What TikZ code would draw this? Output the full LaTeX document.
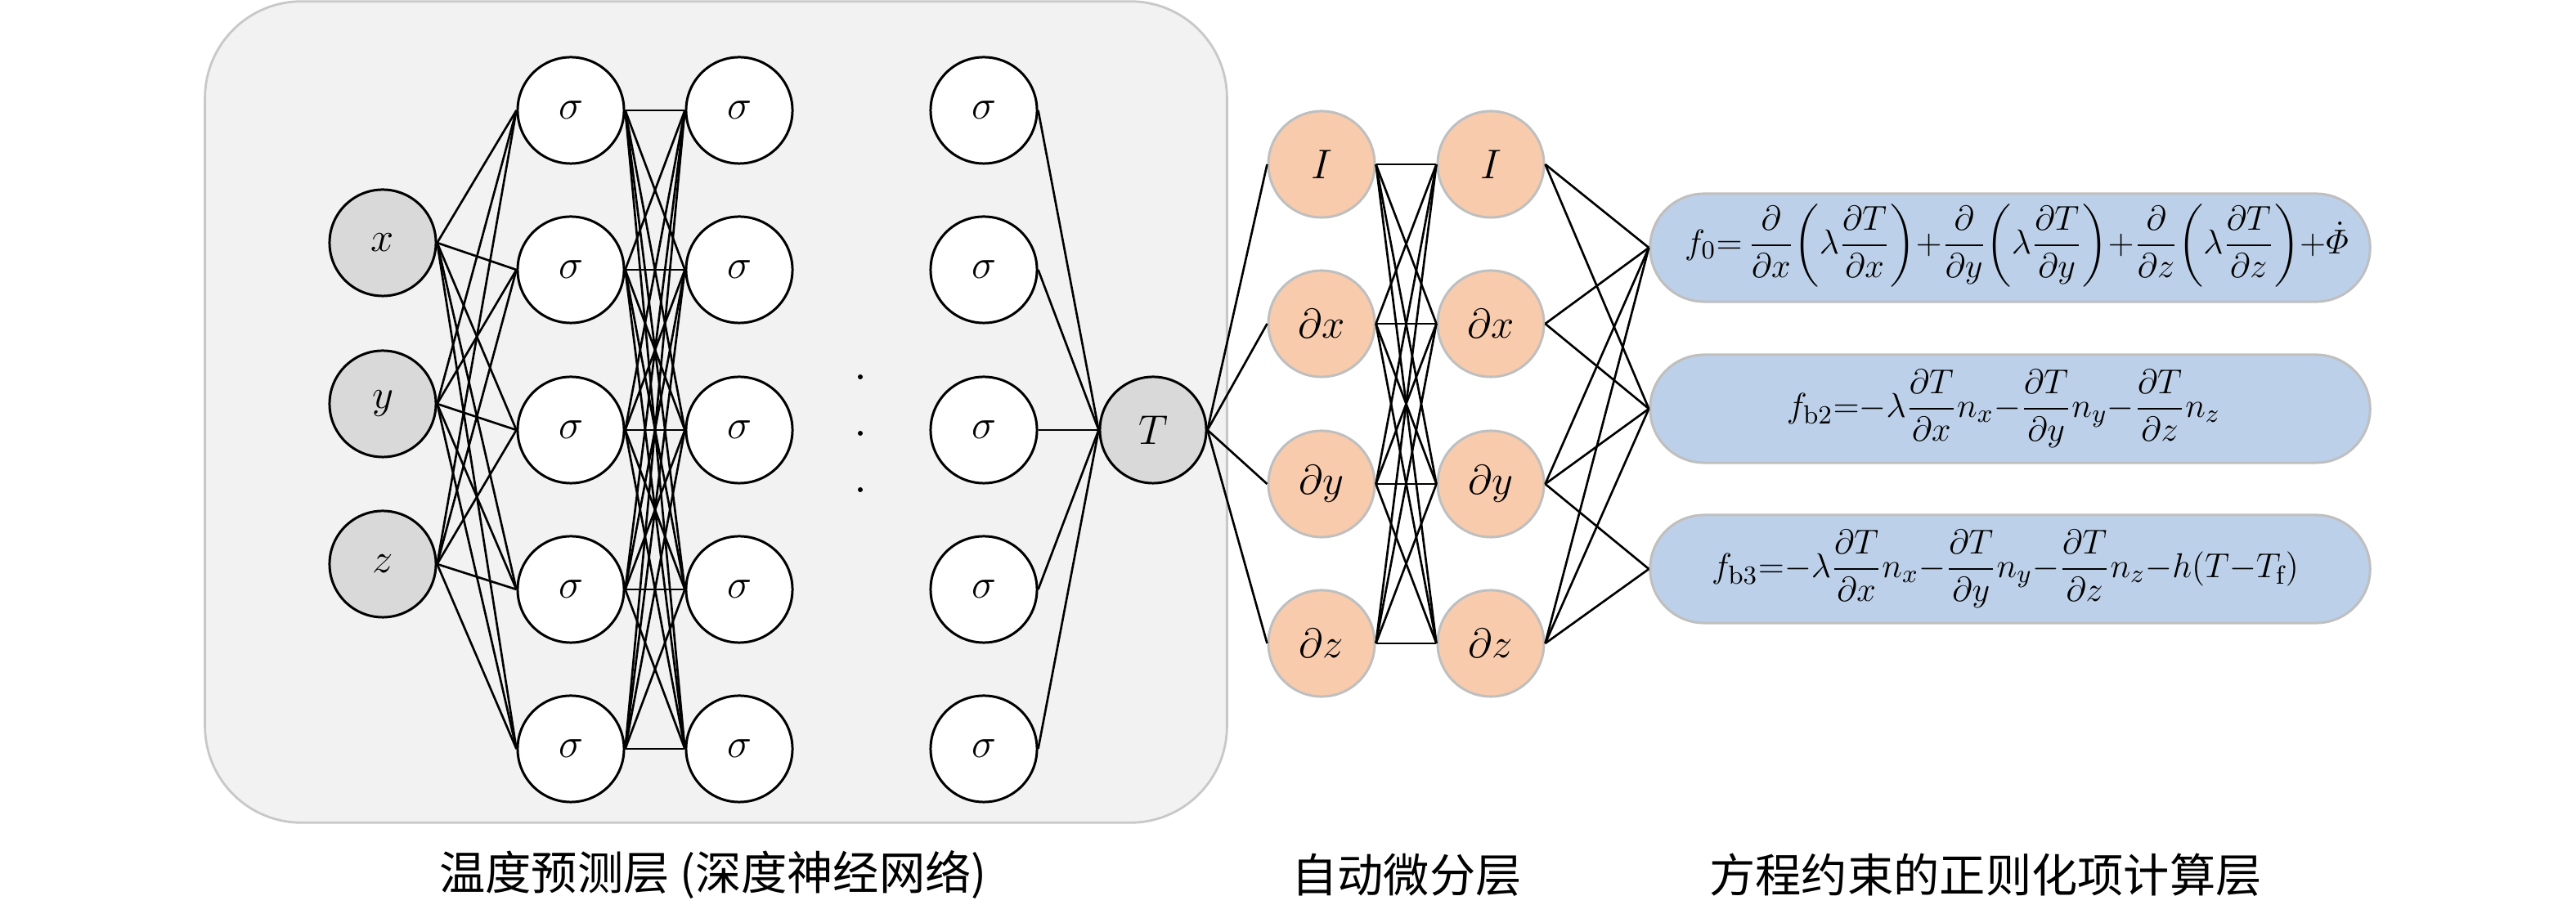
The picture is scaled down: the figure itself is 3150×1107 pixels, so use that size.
\documentclass[tikz,border=0pt]{standalone}
\usepackage{fontspec}
\usepackage{amsmath}
\newfontfamily\cjk{Noto Sans CJK SC}
\usetikzlibrary{shapes.misc}
\definecolor{panelfill}{HTML}{F2F2F2}
\definecolor{paneldraw}{HTML}{C8C8C8}
\definecolor{ingray}{HTML}{D9D9D9}
\definecolor{dorange}{HTML}{F8CBAD}
\definecolor{eqblue}{HTML}{BDD0E9}
\definecolor{softgray}{HTML}{BFBFBF}
\begin{document}
\begin{tikzpicture}[x=0.01cm,y=-0.01cm,
  panel/.style={rectangle, draw=paneldraw, fill=panelfill, line width=0.8pt, rounded corners=1.18cm, minimum width=12.49cm, minimum height=10.04cm, inner sep=0pt},
  neuron/.style={circle, draw=black, line width=0.85pt, fill=white, minimum size=1.30cm, inner sep=0pt, font=\fontsize{14}{16}\selectfont},
  innode/.style={neuron, fill=ingray},
  dnode/.style={circle, draw=softgray, line width=0.85pt, fill=dorange, minimum size=1.30cm, inner sep=0pt, font=\fontsize{14}{16}\selectfont},
  eqbox/.style={rounded rectangle, draw=softgray, line width=0.85pt, fill=eqblue, minimum width=8.8cm, minimum height=1.32cm, inner sep=0pt},
  eqtext/.style={inner sep=0pt, font=\fontsize{13}{16}\selectfont},
  link/.style={line width=0.75pt, black},
  dotmark/.style={circle, fill=black, inner sep=0pt, minimum size=0.06cm},
  caption/.style={font=\cjk\fontsize{16}{19}\selectfont, inner sep=0pt}
]
\useasboundingbox (0,0) rectangle (3150,1107);
\node[panel] (panel) at (875.5,504) {};

% input nodes
\node[innode] (in1) at (468,297) {$x$};
\node[innode] (in2) at (468,494) {$y$};
\node[innode] (in3) at (468,690) {$z$};

% hidden layers
\foreach \j/\yy in {1/135,2/330,3/526,4/721,5/916}{
  \node[neuron] (a\j) at (698,\yy) {$\sigma$};
  \node[neuron] (b\j) at (904,\yy) {$\sigma$};
  \node[neuron] (c\j) at (1203,\yy) {$\sigma$};
}
\node[innode] (T) at (1410,526) {$T$};

\node[dotmark] (dot1) at (1052,461) {};
\node[dotmark] (dot2) at (1052,530) {};
\node[dotmark] (dot3) at (1052,599) {};

% differentiation layer
\node[dnode] (d1) at (1616,201) {$I$};
\node[dnode] (d2) at (1616,396) {$\partial x$};
\node[dnode] (d3) at (1616,592) {$\partial y$};
\node[dnode] (d4) at (1616,787) {$\partial z$};
\node[dnode] (e1) at (1823,201) {$I$};
\node[dnode] (e2) at (1823,396) {$\partial x$};
\node[dnode] (e3) at (1823,592) {$\partial y$};
\node[dnode] (e4) at (1823,787) {$\partial z$};

% equation boxes
\node[eqbox] (f1) at (2458,303) {};
\node[eqbox] (f2) at (2458,500) {};
\node[eqbox] (f3) at (2458,696) {};
\node[eqtext] (t1) at (2466,300) {$\thickmuskip=1mu\medmuskip=0mu\displaystyle f_0{=}\,\frac{\partial}{\partial x}\biggl(\lambda\frac{\partial T}{\partial x}\biggr)+\frac{\partial}{\partial y}\biggl(\lambda\frac{\partial T}{\partial y}\biggr)+\frac{\partial}{\partial z}\biggl(\lambda\frac{\partial T}{\partial z}\biggr)+\dot{\varPhi}$};
\node[eqtext] (t2) at (2450,500) {$\thickmuskip=1mu\medmuskip=0mu\displaystyle f_{\mathrm{b2}}{=}{-}\lambda\frac{\partial T}{\partial x}n_x{-}\frac{\partial T}{\partial y}n_y{-}\frac{\partial T}{\partial z}n_z$};
\node[eqtext] (t3) at (2452,696) {$\thickmuskip=1mu\medmuskip=0mu\displaystyle f_{\mathrm{b3}}{=}{-}\lambda\frac{\partial T}{\partial x}n_x{-}\frac{\partial T}{\partial y}n_y{-}\frac{\partial T}{\partial z}n_z{-}h(T{-}T_{\mathrm{f}})$};

% connections
\foreach \i in {1,2,3}{\foreach \j in {1,...,5}{\draw[link] (in\i.east) -- (a\j.west);}}
\foreach \i in {1,...,5}{\foreach \j in {1,...,5}{\draw[link] (a\i.east) -- (b\j.west);}}
\foreach \i in {1,...,5}{\draw[link] (c\i.east) -- (T.west);}
\foreach \k in {1,...,4}{\draw[link] (T.east) -- (d\k.west);}
\foreach \i in {1,...,4}{\foreach \j in {1,...,4}{\draw[link] (d\i.east) -- (e\j.west);}}
\foreach \i/\j in {1/1,1/2,2/1,2/2,3/1,3/2,3/3,4/1,4/2,4/3}{\draw[link] (e\i.east) -- (f\j.west);}

% captions
\node[caption] (cap1) at (872,1070) {温度预测层 (深度神经网络)};
\node[caption] (cap2) at (1720,1070) {自动微分层};
\node[caption] (cap3) at (2428,1070) {方程约束的正则化项计算层};
\end{tikzpicture}
\end{document}
